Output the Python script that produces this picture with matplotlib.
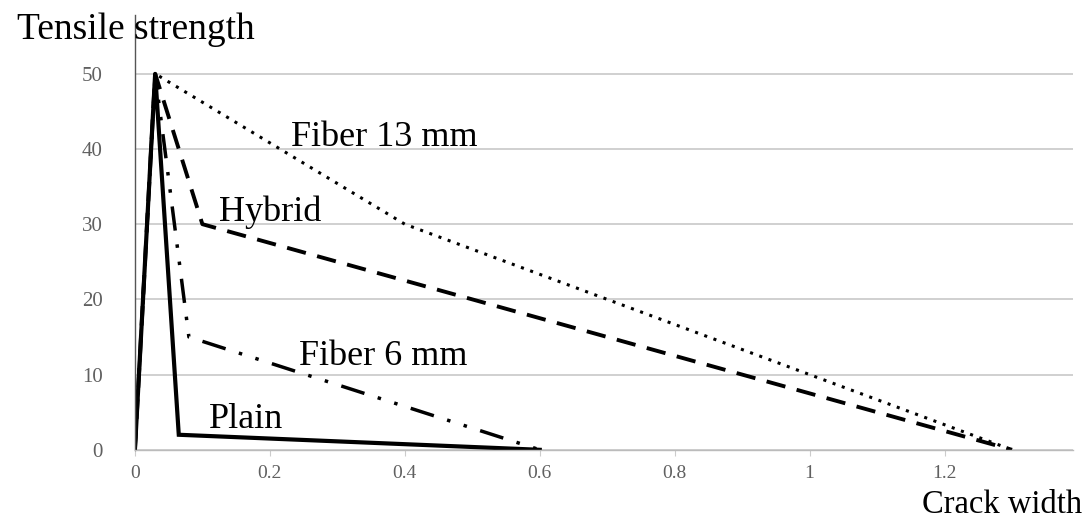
import matplotlib
matplotlib.use("Agg")
import matplotlib.pyplot as plt

plt.rcParams['font.family'] = ['Liberation Serif', 'DejaVu Serif']

# Data (crack width, tensile strength)
plain_x = [0, 0.03, 0.065, 0.6]
plain_y = [0, 50, 2, 0]
fiber6_x = [0, 0.03, 0.08, 0.6]
fiber6_y = [0, 50, 15, 0]
hybrid_x = [0, 0.03, 0.10, 1.3]
hybrid_y = [0, 50, 30, 0]
fiber13_x = [0, 0.03, 0.4, 1.3]
fiber13_y = [0, 50, 30, 0]

x_ticks = [0, 0.2, 0.4, 0.6, 0.8, 1.0, 1.2]
x_tick_labels = ['0', '0.2', '0.4', '0.6', '0.8', '1', '1.2']
y_ticks = [0, 10, 20, 30, 40, 50]

fig = plt.figure(figsize=(10.88, 5.2), dpi=100)
ax = fig.add_axes([0.124, 0.135, 0.862, 0.836])

ax.plot(fiber13_x, fiber13_y, color='black', lw=2.2, linestyle=(0, (1, 2.2)))
ax.plot(hybrid_x, hybrid_y, color='black', lw=2.8, linestyle=(0, (5, 3)))
ax.plot(fiber6_x, fiber6_y, color='black', lw=2.5, linestyle=(0, (7, 4, 1, 4, 1, 4)))
ax.plot(plain_x, plain_y, color='black', lw=3.0, solid_joinstyle='miter')

ax.set_xlim(0, 1.39)
ax.set_ylim(0, 57.8)
ax.set_xticks(x_ticks)
ax.set_xticklabels(x_tick_labels)
ax.set_yticks(y_ticks)

for s in ['top', 'right']:
    ax.spines[s].set_visible(False)
ax.spines['left'].set_color('#555555')
ax.spines['left'].set_linewidth(1.0)
ax.spines['bottom'].set_color('#bbbbbb')
ax.spines['bottom'].set_linewidth(1.0)

ax.yaxis.grid(True, color='#c8c8c8', lw=1.2)
ax.set_axisbelow(True)

ax.tick_params(axis='y', length=0, pad=23, labelsize=15, labelcolor='#606060')
ax.tick_params(axis='x', length=4, direction='out', color='#cccccc', pad=7,
               labelsize=14, labelcolor='#606060')

ax.text(0.0015, 55.8, 'Tensile strength', fontsize=27, ha='center', va='center',
        clip_on=False)
fig.text(0.995, 0.0, 'Crack width', fontsize=23.5, ha='right', va='bottom')

ax.text(0.232, 41.5, 'Fiber 13 mm', fontsize=26, ha='left', va='center')
ax.text(0.124, 31.6, 'Hybrid', fontsize=26, ha='left', va='center')
ax.text(0.243, 12.4, 'Fiber 6 mm', fontsize=26, ha='left', va='center')
ax.text(0.11, 4.0, 'Plain', fontsize=26, ha='left', va='center')

fig.savefig('out.png', dpi=100, facecolor='white')
